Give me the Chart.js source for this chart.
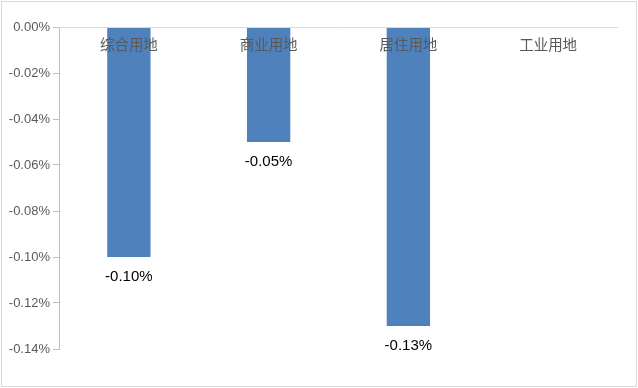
<!DOCTYPE html>
<html>
<head>
<meta charset="utf-8">
<script src="https://cdn.jsdelivr.net/npm/chart.js@4"></script>
<style>
  html, body { margin: 0; padding: 0; background: #fff; }
  #wrap { width: 638px; height: 388px; }
</style>
</head>
<body>
<div id="wrap"><canvas id="landChart"></canvas></div>
<script>
// land-use categories and change values (percent)
const categories = ['综合用地', '商业用地', '居住用地', '工业用地'];
const values = [-0.10, -0.05, -0.13, null];
const yMin = -0.14;
const yMax = 0;
const yStep = 0.02;

const cjkFont = '"Noto Sans CJK SC", "Noto Sans", sans-serif';
const numFont = '"Liberation Sans", Arial, sans-serif';

const fmt = v => (Math.abs(v) < 1e-9 ? 0 : v).toFixed(2) + '%';

// frame, zero line, category names and value labels
const decorations = {
  id: 'decorations',
  afterDatasetsDraw(chart) {
    const { ctx, chartArea, scales } = chart;
    const x = scales.x, y = scales.y;
    ctx.save();
    ctx.strokeStyle = '#d9d9d9';
    ctx.lineWidth = 1;
    ctx.strokeRect(1.5, 1.5, chart.width - 3, chart.height - 3);

    const y0 = Math.round(y.getPixelForValue(0)) + 0.5;
    ctx.beginPath();
    ctx.moveTo(chartArea.left, y0);
    ctx.lineTo(chartArea.right, y0);
    ctx.stroke();

    ctx.textAlign = 'center';
    ctx.textBaseline = 'middle';
    ctx.fillStyle = '#595959';
    ctx.font = '14.5px ' + cjkFont;
    categories.forEach((c, i) => {
      ctx.fillText(c, x.getPixelForValue(i), chartArea.top + 17);
    });

    ctx.fillStyle = '#000';
    ctx.font = '15px ' + numFont;
    values.forEach((v, i) => {
      if (v === null) return;
      ctx.fillText(fmt(v), x.getPixelForValue(i), y.getPixelForValue(v) + 20);
    });
    ctx.restore();
  }
};

new Chart(document.getElementById('landChart'), {
  type: 'bar',
  data: {
    labels: categories,
    datasets: [{
      data: values,
      backgroundColor: '#4f81bd',
      barPercentage: 0.31,
      categoryPercentage: 1
    }]
  },
  options: {
    responsive: true,
    maintainAspectRatio: false,
    animation: false,
    layout: { padding: { left: 0, top: 27, right: 20, bottom: 39 } },
    plugins: { legend: { display: false }, tooltip: { enabled: false } },
    scales: {
      x: { display: false },
      y: {
        min: yMin,
        max: yMax,
        afterFit(scale) { scale.width = 59; },
        border: { color: '#bfbfbf' },
        grid: { drawOnChartArea: false, tickLength: 6, color: '#bfbfbf' },
        ticks: {
          stepSize: yStep,
          padding: 3,
          color: '#595959',
          font: { family: numFont, size: 13 },
          callback: v => fmt(v)
        }
      }
    }
  },
  plugins: [decorations]
});
</script>
</body>
</html>
